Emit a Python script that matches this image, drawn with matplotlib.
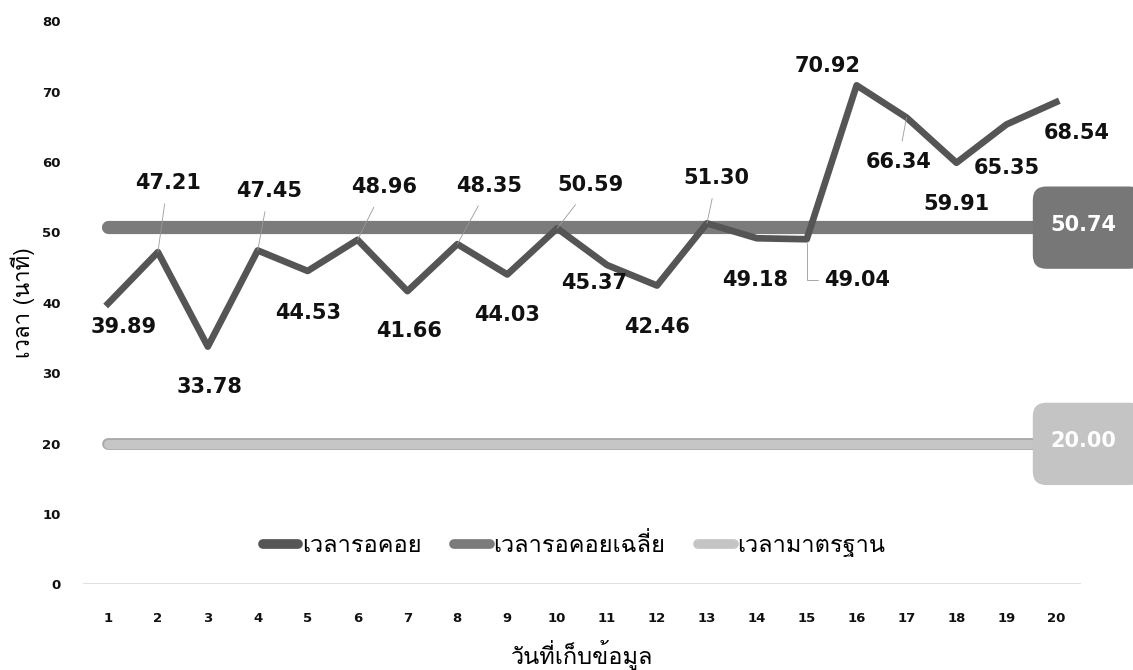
import matplotlib
matplotlib.use('Agg')
import matplotlib.pyplot as plt
from matplotlib import font_manager
from matplotlib.ft2font import FT2Font
from matplotlib.patches import FancyBboxPatch

# data
days = list(range(1, 21))
wait_times = [39.89, 47.21, 33.78, 47.45, 44.53, 48.96, 41.66, 48.35, 44.03, 50.59,
              45.37, 42.46, 51.30, 49.18, 49.04, 70.92, 66.34, 59.91, 65.35, 68.54]
avg_time = 50.74
std_time = 20.00
series_names = ['เวลารอคอย', 'เวลารอคอยเฉลี่ย', 'เวลามาตรฐาน']
x_title = 'วันที่เก็บข้อมูล'
y_title = 'เวลา (นาที)'

# label offsets (points) and whether a leader line is drawn
label_offsets = [(11, -17), (7, 50), (1, -29), (8, 43), (0, -30), (19, 38), (1, -29), (23, 42),
                 (0, -29), (24, 31), (-9, -13), (0, -30), (7, 33), (-1, -30), (36, -29),
                 (-21, 14), (-6, -32), (0, -30), (0, -31), (15, -22)]
leaders = [False, True, False, True, False, True, False, True, False, True,
           False, False, True, False, True, False, True, False, False, False]


def thai_font():
    # find an installed font that has Thai glyphs
    for f in font_manager.fontManager.ttflist:
        try:
            if 0x0E27 in FT2Font(f.fname).get_charmap():
                return f.name
        except Exception:
            pass
    return 'DejaVu Sans'


thai = thai_font()
plt.rcParams['font.family'] = [thai, 'DejaVu Sans']

fig = plt.figure(figsize=(11.33, 6.70), dpi=100)
ax = fig.add_axes([0.0733, 0.128, 0.881, 0.840])
ax.set_xlim(0.5, 20.5)
ax.set_ylim(0, 80)

line_end = [days[0], days[-1] + 0.5]
ax.plot(line_end, [std_time] * 2, color='#a9a9a9', lw=8.5, solid_capstyle='round', zorder=2)
ax.plot(line_end, [std_time] * 2, color='#c6c6c6', lw=6.5, solid_capstyle='round', zorder=2)
ax.plot(line_end, [avg_time] * 2, color='#7b7b7b', lw=9.5, solid_capstyle='round', zorder=2)
ax.plot(days, wait_times, color='#555555', lw=4.8, zorder=3)

for i, (d, v, off, lead) in enumerate(zip(days, wait_times, label_offsets, leaders)):
    arrow = None
    if lead:
        arrow = dict(arrowstyle='-', color='#9a9a9a', lw=0.6, shrinkA=6, shrinkB=0)
    if i == 14:
        arrow = dict(arrowstyle='-', color='#9a9a9a', lw=0.6, shrinkA=2, shrinkB=3,
                     connectionstyle='angle,angleA=0,angleB=90,rad=0')
    ax.annotate(f'{v:.2f}', xy=(d, v), xytext=off, textcoords='offset points',
                ha='center', va='center', fontsize=15, fontweight='bold',
                family='DejaVu Sans', color='#111111', arrowprops=arrow, zorder=4)

# value boxes at the right end
p0 = ax.transData.transform((0, 0))
p1 = ax.transData.transform((1, 1))
aspect = (p1[0] - p0[0]) / (p1[1] - p0[1])
for val, fc in [(avg_time, '#777777'), (std_time, '#c4c4c4')]:
    box = FancyBboxPatch((19.53, val - 5.9), 2.2, 11.7,
                         boxstyle='round,pad=0,rounding_size=0.27',
                         mutation_aspect=aspect, fc=fc, ec='none', clip_on=False, zorder=3)
    ax.add_patch(box)
    ax.text(20.55, val + 0.3, f'{val:.2f}', ha='center', va='center', fontsize=15,
            fontweight='bold', family='DejaVu Sans', color='white', zorder=4, clip_on=False)

ax.set_xticks(days)
ax.set_yticks(range(0, 81, 10))
ax.tick_params(axis='x', length=0, labelsize=9.5, pad=20)
ax.tick_params(axis='y', length=0, labelsize=9.5, pad=16)
for t in ax.get_xticklabels() + ax.get_yticklabels():
    t.set_fontweight('bold')
    t.set_family('DejaVu Sans')
    t.set_color('#111111')
for s in ax.spines.values():
    s.set_visible(False)
ax.axhline(0, color='#dadada', lw=1.2, zorder=1)

ax.set_xlabel(x_title, fontsize=17)
ax.xaxis.set_label_coords(0.5, -0.125)
ax.xaxis.label.set_va('center')
ax.set_ylabel(y_title, fontsize=16)
ax.yaxis.set_label_coords(-0.06, 0.5)
ax.yaxis.label.set_va('center')

handles = [plt.Line2D([], [], color=c, lw=7, solid_capstyle='round')
           for c in ['#555555', '#7b7b7b', '#c4c4c4']]
ax.legend(handles, series_names, loc='center', bbox_to_anchor=(0.492, 0.069), ncol=3,
          frameon=False, fontsize=17, handlelength=1.5, handletextpad=0.15,
          columnspacing=1.4)

plt.savefig('out.png', dpi=100)
